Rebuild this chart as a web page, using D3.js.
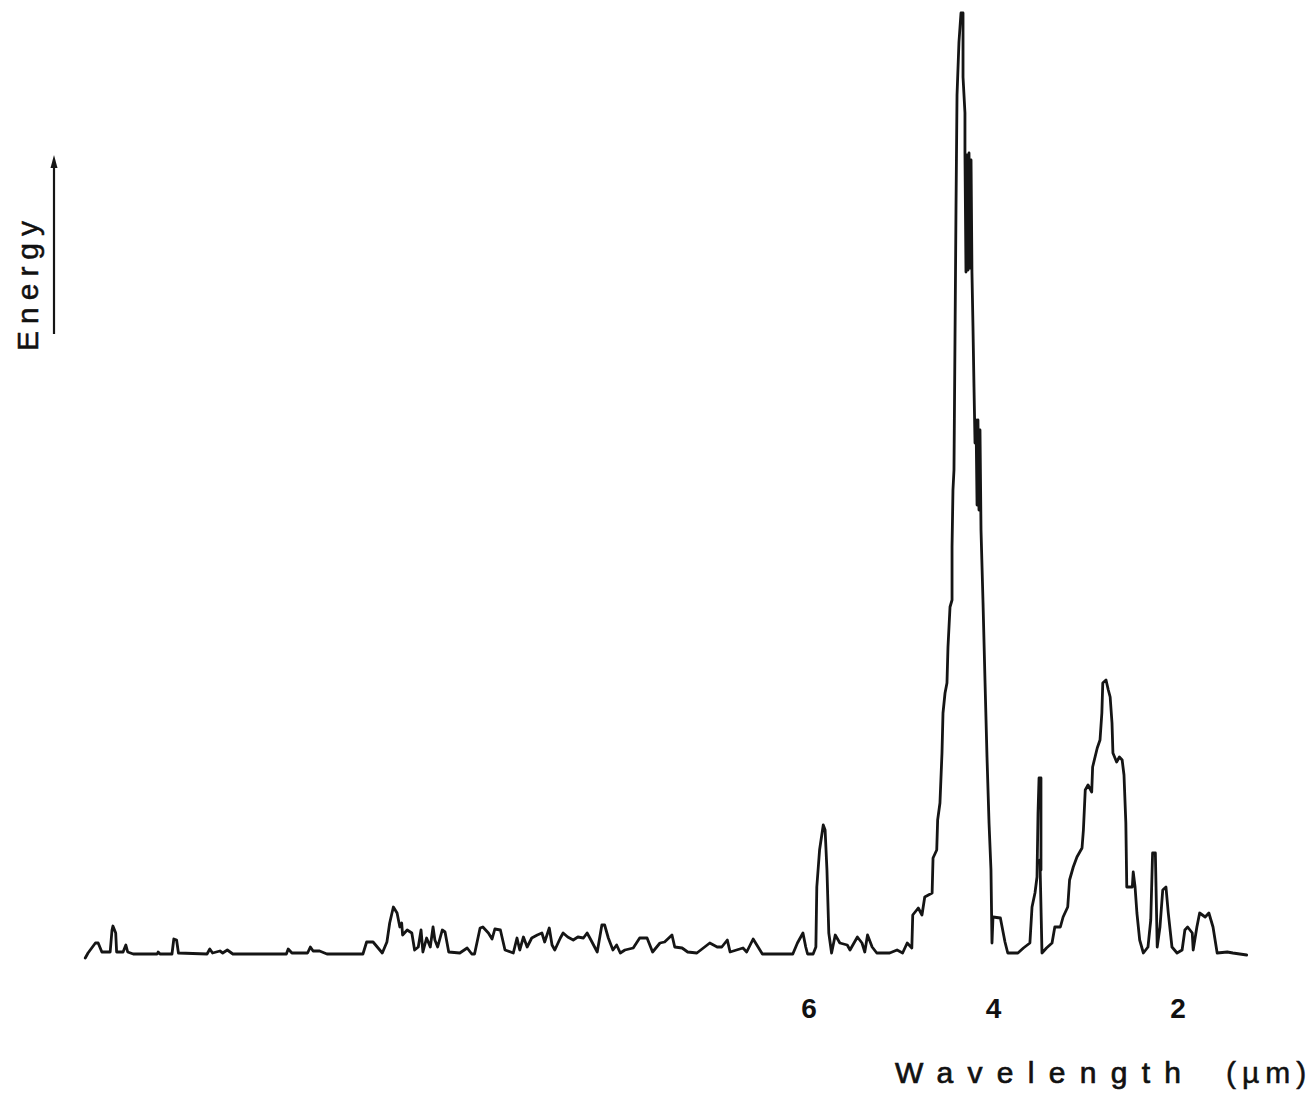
<!DOCTYPE html>
<head>
    <title>Energy spectrum</title>
    <script src="https://cdn.jsdelivr.net/npm/d3@7"></script>
    <style>
        body { margin: 0; background: #fff; }
        text { font-family: "Liberation Sans", Arial, sans-serif; fill: #111; }
    </style>
</head>
<body>
<div id="container"></div>

<script>

// Spectrum trace (wavelength in µm, energy in arbitrary units)
const wavelength = [
    13.84, 13.81, 13.73, 13.70, 13.66, 13.57, 13.55, 13.54, 13.51, 13.50,
    13.43, 13.40, 13.38, 13.32, 13.06, 13.05, 13.03, 12.90, 12.88, 12.85,
    12.83, 12.52, 12.49, 12.46, 12.38, 12.35, 12.30, 12.24, 11.66, 11.64,
    11.60, 11.43, 11.40, 11.37, 11.30, 11.22, 10.83, 10.79, 10.72, 10.62,
    10.57, 10.54, 10.50, 10.46, 10.43, 10.41, 10.40, 10.35, 10.30, 10.27,
    10.23, 10.20, 10.18, 10.14, 10.10, 10.07, 10.05, 10.02, 9.97, 9.94,
    9.90, 9.78, 9.70, 9.65, 9.62, 9.56, 9.53, 9.47, 9.43, 9.40,
    9.34, 9.29, 9.20, 9.16, 9.13, 9.09, 9.05, 9.00, 8.94, 8.89,
    8.86, 8.81, 8.78, 8.75, 8.69, 8.66, 8.61, 8.55, 8.50, 8.44,
    8.40, 8.37, 8.29, 8.24, 8.21, 8.17, 8.12, 8.08, 8.04, 7.99,
    7.90, 7.83, 7.75, 7.69, 7.61, 7.56, 7.48, 7.45, 7.37, 7.31,
    7.21, 7.07, 6.99, 6.94, 6.88, 6.85, 6.78, 6.71, 6.67, 6.60,
    6.56, 6.50, 6.17, 6.12, 6.06, 6.03, 6.01, 5.95, 5.92, 5.91,
    5.88, 5.84, 5.82, 5.80, 5.78, 5.75, 5.71, 5.66, 5.58, 5.55,
    5.47, 5.42, 5.39, 5.36, 5.31, 5.26, 5.12, 5.04, 4.98, 4.93,
    4.88, 4.87, 4.81, 4.77, 4.74, 4.66, 4.65, 4.61, 4.60, 4.575,
    4.553, 4.542, 4.520, 4.499, 4.488, 4.466, 4.444, 4.444, 4.434, 4.423,
    4.412, 4.401, 4.390, 4.369, 4.347, 4.325, 4.325, 4.304, 4.304, 4.293,
    4.282, 4.271, 4.260, 4.249, 4.238, 4.228, 4.217, 4.206, 4.195, 4.184,
    4.173, 4.163, 4.152, 4.141, 4.130, 4.108, 4.087, 4.065, 4.043, 4.022,
    4.011, 4.000, 3.92, 3.87, 3.84, 3.73, 3.67, 3.60, 3.577, 3.545,
    3.523, 3.512, 3.501, 3.480, 3.480, 3.491, 3.469, 3.42, 3.36, 3.33,
    3.27, 3.24, 3.19, 3.17, 3.13, 3.09, 3.035, 3.02, 3.00, 2.97,
    2.93, 2.92, 2.87, 2.84, 2.82, 2.81, 2.775, 2.75, 2.73, 2.71,
    2.70, 2.66, 2.63, 2.60, 2.58, 2.56, 2.55, 2.49, 2.48, 2.46,
    2.44, 2.41, 2.37, 2.32, 2.29, 2.27, 2.24, 2.23, 2.22, 2.19,
    2.16, 2.125, 2.10, 2.06, 2.005, 1.95, 1.92, 1.89, 1.84, 1.83,
    1.79, 1.76, 1.70, 1.66, 1.615, 1.57, 1.46, 1.40, 1.25
];

const energy = [
    -0.5, 0, 1.0, 1.0, 0.1, 0.1, 2.3, 2.7, 2.0, 0.1,
    0.1, 0.8, 0.1, -0.1, -0.1, 0.1, -0.1, -0.1, 1.4, 1.3,
    0, -0.1, 0.4, 0, 0.2, 0, 0.3, -0.1, -0.1, 0.4,
    0, 0, 0.6, 0.2, 0.2, -0.1, -0.1, 1.1, 1.1, 0,
    1.1, 3.0, 4.6, 4.0, 2.6, 3.0, 1.8, 2.3, 2.0, 0.3,
    0.6, 2.3, 0.1, 1.5, 0.6, 2.6, 1.3, 0.6, 2.3, 2.1,
    0.1, 0, 0.5, -0.1, -0.1, 2.5, 2.6, 2.0, 1.4, 2.4,
    2.3, 0.3, 0, 1.5, 0.3, 1.6, 0.6, 1.5, 1.8, 2.0,
    1.1, 2.5, 0.8, 0.3, 1.5, 2.0, 1.6, 1.3, 1.6, 1.5,
    2.0, 1.5, 0.1, 2.8, 2.8, 1.5, 0.3, 0.8, 0, 0.3,
    0.5, 1.5, 1.5, 0.1, 1.0, 1.1, 1.8, 0.6, 0.5, 0.1,
    0, 1.0, 0.6, 0.6, 1.3, 0.1, 0.3, 0.5, 0.1, 1.4,
    0.8, -0.1, -0.1, 1.0, 2.0, 0.6, -0.1, -0.1, 0.6, 6.6,
    10.3, 12.8, 12.3, 8.3, 2.0, 0, 1.8, 1.0, 0.8, 0.3,
    1.6, 1.0, 0.1, 1.8, 0.6, 0, 0, 0.3, 0, 1.0,
    0.5, 3.8, 4.5, 3.8, 5.6, 6.0, 9.5, 10.3, 13.3, 15.0,
    20.0, 24.0, 26.0, 27.0, 30.6, 34.6, 35.3, 40.6, 46.3, 48.3,
    61.3, 74.6, 85.8, 91.1, 94.0, 94.0, 87.6, 84.0, 80.0, 68.1,
    79.8, 68.3, 80.0, 68.5, 79.3, 68.0, 62.6, 56.6, 51.0, 53.3,
    44.8, 53.3, 44.3, 52.3, 42.3, 35.0, 27.3, 19.6, 13.0, 8.3,
    1.0, 3.6, 3.5, 1.1, 0, 0, 0.5, 1.0, 4.6, 6.0,
    7.6, 14.0, 17.5, 17.5, 8.3, 9.3, 0, 0.5, 1.0, 2.6,
    2.6, 3.6, 4.6, 7.3, 8.6, 9.6, 10.5, 12.3, 16.3, 16.8,
    16.1, 18.6, 20.5, 21.3, 24.0, 27.0, 27.3, 26.3, 25.6, 23.0,
    20.0, 19.1, 19.6, 19.3, 17.8, 13.0, 6.6, 6.6, 8.1, 6.6,
    4.0, 1.3, 0, 0.6, 3.3, 10.0, 10.0, 5.3, 0.6, 2.6,
    6.3, 6.6, 4.0, 0.6, 0, 0.3, 2.3, 2.6, 2.0, 0.3,
    2.6, 4.0, 3.6, 4.0, 2.6, 0, 0.1, 0, -0.2
];

const tickValues = [6, 4, 2];
const xTitle = "Wavelength";
const xUnit = "(µm)";
const yTitle = "Energy";

const data = wavelength.map((w, i) => ({ w: w, e: energy[i] }));

// Dimensions
const width = 1314;
const height = 1104;

const svg = d3.select("#container")
              .append("svg")
              .attr("width", width)
              .attr("height", height);

// Scales: wavelength decreases to the right
const x = d3.scaleLinear()
            .domain([6, 2])
            .range([808.5, 1177.5]);

const y = d3.scaleLinear()
            .domain([0, 94.1])
            .range([953, 12]);

// Spectrum line
const line = d3.line()
               .x(d => x(d.w))
               .y(d => y(d.e));

svg.append("path")
   .datum(data)
   .attr("fill", "none")
   .attr("stroke", "#151515")
   .attr("stroke-width", 2.8)
   .attr("stroke-linejoin", "round")
   .attr("stroke-linecap", "round")
   .attr("d", line);

// Axis: labels only, no line or tick marks
const xAxis = svg.append("g")
                 .attr("transform", "translate(0,997)")
                 .call(d3.axisBottom(x)
                         .tickValues(tickValues)
                         .tickSize(0)
                         .tickPadding(0)
                         .tickFormat(d3.format("d")));
xAxis.select(".domain").remove();
xAxis.selectAll("text")
     .attr("dy", "0.75em")
     .style("font-family", "'Liberation Sans', Arial, sans-serif")
     .style("font-size", "28px")
     .style("font-weight", "bold")
     .style("fill", "#111");

// Axis title
svg.append("text")
   .attr("x", 895)
   .attr("y", 1083)
   .style("font-size", "30px")
   .style("letter-spacing", "14.3px")
   .style("stroke", "#111")
   .style("stroke-width", 0.7)
   .text(xTitle);

svg.append("text")
   .attr("x", 1226)
   .attr("y", 1083)
   .style("font-size", "30px")
   .style("letter-spacing", "6px")
   .style("stroke", "#111")
   .style("stroke-width", 0.5)
   .text(xUnit);

// Y title and arrow
svg.append("text")
   .attr("transform", "translate(38,351) rotate(-90)")
   .style("font-size", "30px")
   .style("letter-spacing", "7px")
   .style("stroke", "#111")
   .style("stroke-width", 0.5)
   .text(yTitle);

svg.append("line")
   .attr("x1", 54).attr("x2", 54)
   .attr("y1", 334).attr("y2", 166)
   .attr("stroke", "#151515")
   .attr("stroke-width", 2.2);

svg.append("path")
   .attr("d", "M54,155 L50.5,168 L57.5,168 Z")
   .attr("fill", "#151515");

</script>

</body>
